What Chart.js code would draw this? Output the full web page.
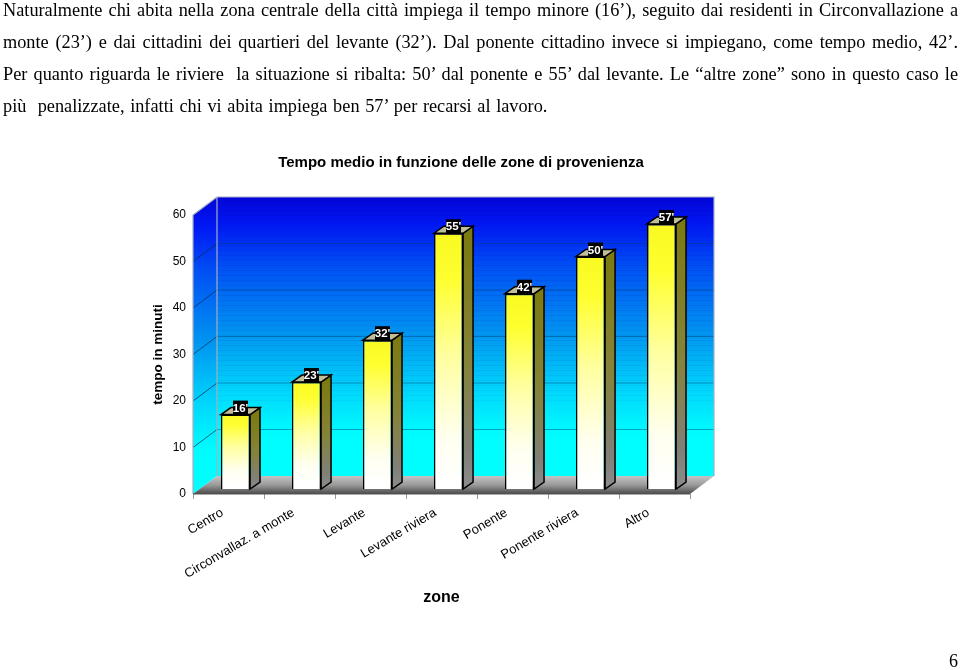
<!DOCTYPE html>
<html lang="it">
<head>
<meta charset="utf-8">
<title>Tempo medio</title>
<script src="https://cdn.jsdelivr.net/npm/chart.js@4"></script>
<style>
  html, body { margin: 0; padding: 0; background: #fff; }
  #pagina { position: relative; width: 960px; height: 670px; overflow: hidden; }
  #myChart { position: absolute; left: 0; top: 0; }
  .riga {
    position: absolute; left: 3px; width: 955px; height: 20px; line-height: 20px;
    font-family: "Liberation Serif", serif; font-size: 18.3px; color: #000;
    white-space: pre-wrap; text-align: justify; text-align-last: justify;
  }
  #numero { position: absolute; left: 949px; top: 651px; font: 18px "Liberation Serif", serif; }
</style>
</head>
<body>
<div id="pagina">
  <canvas id="myChart" width="960" height="670"></canvas>
  <div class="riga" style="top:0px">Naturalmente chi abita nella zona centrale della città impiega il tempo minore (16’), seguito dai residenti in Circonvallazione a</div>
  <div class="riga" style="top:32px">monte (23’) e dai cittadini dei quartieri del levante (32’). Dal ponente cittadino invece si impiegano, come tempo medio, 42’.</div>
  <div class="riga" style="top:64px">Per quanto riguarda le riviere  la situazione si ribalta: 50’ dal ponente e 55’ dal levante. Le “altre zone” sono in questo caso le</div>
  <div class="riga" style="top:96px;text-align-last:left;word-spacing:1.1px">più  penalizzate, infatti chi vi abita impiega ben 57’ per recarsi al lavoro.</div>
  <div id="numero">6</div>
</div>
<script>
const ctx = document.getElementById("myChart");

const zone = ["Centro", "Circonvallaz. a monte", "Levante", "Levante riviera", "Ponente", "Ponente riviera", "Altro"];
const minuti = [16, 23, 32, 55, 42, 50, 57];
const etichette = ["16'", "23'", "32'", "55'", "42'", "50'", "57'"];

// profondita' della scatola 3D e delle barre
const PROF_X = 24, PROF_Y = 18;
const SPOST_X = 7, SPOST_Y = 5;
const BARRA_X = 10, BARRA_Y = 7;

const poligono = (c, punti, fill) => {
  c.beginPath();
  punti.forEach((p, i) => (i ? c.lineTo(p[0], p[1]) : c.moveTo(p[0], p[1])));
  c.closePath();
  if (fill) {
    c.fillStyle = fill;
    c.fill();
  }
};

const gradiente = (c, y0, y1, stops) => {
  const g = c.createLinearGradient(0, y0, 0, y1);
  stops.forEach((s) => g.addColorStop(s[0], s[1]));
  return g;
};

const sfondoPlugin = {
  id: "sfondo",
  afterLayout(chart) {
    // il titolo e' centrato sul grafico, non sulla pagina
    const t = chart.titleBlock;
    const d = 461 - (t.left + t.right) / 2;
    t.left += d;
    t.right += d;
  },
  beforeDatasetsDraw(chart) {
    const c = chart.ctx;
    const { left, right, top, bottom } = chart.chartArea;
    const y = chart.scales.y;
    c.save();

    const blu = [[0, "#0404d8"], [0.1, "#0018f4"], [0.25, "#0050f4"], [0.5, "#0098f0"], [0.7, "#00d8fc"], [0.85, "#00fcff"], [1, "#00ffff"]];
    // parete di fondo
    poligono(c, [[left + PROF_X, top - PROF_Y], [right + PROF_X, top - PROF_Y], [right + PROF_X, bottom - PROF_Y], [left + PROF_X, bottom - PROF_Y]],
      gradiente(c, top - PROF_Y, bottom - PROF_Y, blu));
    // parete sinistra
    poligono(c, [[left, top], [left + PROF_X, top - PROF_Y], [left + PROF_X, bottom - PROF_Y], [left, bottom]],
      gradiente(c, top - PROF_Y, bottom, blu));

    // bande del gradiente, come nell'originale
    c.lineWidth = 1;
    for (let py = top - PROF_Y + 3; py < bottom - 90; py += 5) {
      c.strokeStyle = "rgba(0,20,160," + (0.13 * (1 - (py - top) / (bottom - top))).toFixed(3) + ")";
      c.beginPath();
      c.moveTo(left + PROF_X, py + 0.5);
      c.lineTo(right + PROF_X, py + 0.5);
      c.stroke();
    }

    // griglia
    y.ticks.forEach((tick) => {
      if (tick.value === 0 || tick.value === 60) return;
      const py = y.getPixelForValue(tick.value);
      c.strokeStyle = "rgba(0,40,80,0.7)";
      c.beginPath();
      c.moveTo(left, py);
      c.lineTo(left + PROF_X, py - PROF_Y);
      c.stroke();
      c.strokeStyle = "rgba(0,60,110,0.45)";
      c.beginPath();
      c.moveTo(left + PROF_X, py - PROF_Y);
      c.lineTo(right + PROF_X, py - PROF_Y);
      c.stroke();
    });

    // bordi delle pareti
    c.strokeStyle = "#a4aec4";
    c.lineWidth = 1.2;
    c.beginPath();
    c.moveTo(left, bottom);
    c.lineTo(left, top);
    c.lineTo(left + PROF_X, top - PROF_Y);
    c.lineTo(right + PROF_X, top - PROF_Y);
    c.lineTo(right + PROF_X, bottom - PROF_Y);
    c.moveTo(left + PROF_X, top - PROF_Y);
    c.lineTo(left + PROF_X, bottom - PROF_Y);
    c.stroke();

    // pavimento
    poligono(c, [[left, bottom], [left + PROF_X, bottom - PROF_Y], [right + PROF_X, bottom - PROF_Y], [right, bottom]],
      gradiente(c, bottom - PROF_Y, bottom, [[0, "#c4c4c4"], [0.5, "#9a9a9a"], [1, "#4a4a4a"]]));
    c.strokeStyle = "#555";
    c.beginPath();
    c.moveTo(left, bottom);
    c.lineTo(right, bottom);
    c.stroke();
    c.restore();
  },
  beforeDatasetDraw(chart) {
    // facce laterali e superiori, poi la faccia frontale la disegna Chart.js
    const c = chart.ctx;
    const base = chart.scales.y.getPixelForValue(0) - SPOST_Y;
    c.save();
    c.lineWidth = 1.5;
    c.strokeStyle = "#000";
    chart.getDatasetMeta(0).data.forEach((bar) => {
      const dx = bar.x + SPOST_X + bar.width / 2;
      const sx = bar.x + SPOST_X - bar.width / 2;
      const ty = bar.y - SPOST_Y;
      poligono(c, [[dx, ty], [dx + BARRA_X, ty - BARRA_Y], [dx + BARRA_X, base - BARRA_Y], [dx, base]],
        gradiente(c, ty, base, [[0, "#7c7a10"], [0.5, "#85833a"], [0.85, "#808078"], [1, "#8c8c8c"]]));
      c.stroke();
      poligono(c, [[sx, ty], [sx + BARRA_X, ty - BARRA_Y], [dx + BARRA_X, ty - BARRA_Y], [dx, ty]], "#c0bf98");
      c.stroke();
    });
    c.restore();
    c.save();
    c.translate(SPOST_X, -SPOST_Y);
  },
  afterDatasetDraw(chart) {
    const c = chart.ctx;
    c.restore();
    // etichette bianche su fondo nero
    c.save();
    c.font = "bold 11.5px 'Liberation Sans', sans-serif";
    c.textAlign = "center";
    c.textBaseline = "middle";
    chart.getDatasetMeta(0).data.forEach((bar, i) => {
      const cx = bar.x + SPOST_X + 5;
      const ty = bar.y - SPOST_Y;
      c.fillStyle = "#000";
      c.fillRect(cx - 7.5, ty - 14, 15, 15);
      c.fillStyle = "#fff";
      c.fillText(etichette[i], cx, ty - 6);
    });
    c.restore();
  },
};

new Chart(ctx, {
  type: "bar",
  data: {
    labels: zone,
    datasets: [
      {
        label: "tempo in minuti",
        data: minuti,
        barPercentage: 0.41,
        categoryPercentage: 1,
        borderColor: "#000",
        borderWidth: 1.5,
        backgroundColor: (context) => {
          if (context.parsed === undefined) return "#ffff00";
          // il gradiente e' calcolato su ogni barra, giallo in cima e bianco in fondo
          const scala = context.chart.scales.y;
          const cima = scala.getPixelForValue(context.parsed.y);
          const base = scala.getPixelForValue(0);
          if (!Number.isFinite(cima) || !Number.isFinite(base)) return "#ffff00";
          return gradiente(context.chart.ctx, cima - SPOST_Y, base - SPOST_Y,
            [[0, "#f8f820"], [0.2, "#ffff30"], [0.5, "#ffffa0"], [0.82, "#fffff0"], [1, "#ffffff"]]);
        },
      },
    ],
  },
  options: {
    responsive: false,
    animation: false,
    layout: { padding: { left: 150, right: 270, top: 0, bottom: 63 } },
    plugins: {
      legend: { display: false },
      tooltip: { enabled: false },
      title: {
        display: true,
        text: "Tempo medio in funzione delle zone di provenienza",
        color: "#000",
        font: { family: "'Liberation Sans', sans-serif", size: 15, weight: "bold", lineHeight: 1.2 },
        padding: { top: 154, bottom: 43 },
      },
    },
    scales: {
      x: {
        offset: true,
        afterFit: (scale) => { scale.height = 113; },
        grid: { drawOnChartArea: false, color: "#999", tickLength: 5 },
        border: { display: false },
        ticks: {
          autoSkip: false,
          minRotation: 30.5,
          maxRotation: 30.5,
          color: "#000",
          padding: 6,
          labelOffset: -6,
          font: { family: "'Liberation Sans', sans-serif", size: 13 },
        },
        title: {
          display: true,
          text: "zone",
          color: "#000",
          padding: 0,
          font: { family: "'Liberation Sans', sans-serif", size: 16, weight: "bold" },
        },
      },
      y: {
        min: 0,
        max: 60,
        afterFit: (scale) => { scale.width = 43; },
        grid: { display: false, drawTicks: false },
        border: { display: false },
        ticks: {
          stepSize: 10,
          color: "#000",
          padding: 7,
          font: { family: "'Liberation Sans', sans-serif", size: 12 },
        },
        title: {
          display: true,
          text: "tempo in minuti",
          color: "#000",
          padding: 0,
          font: { family: "'Liberation Sans', sans-serif", size: 13.5, weight: "bold" },
        },
      },
    },
  },
  plugins: [sfondoPlugin],
});
</script>
</body>
</html>
